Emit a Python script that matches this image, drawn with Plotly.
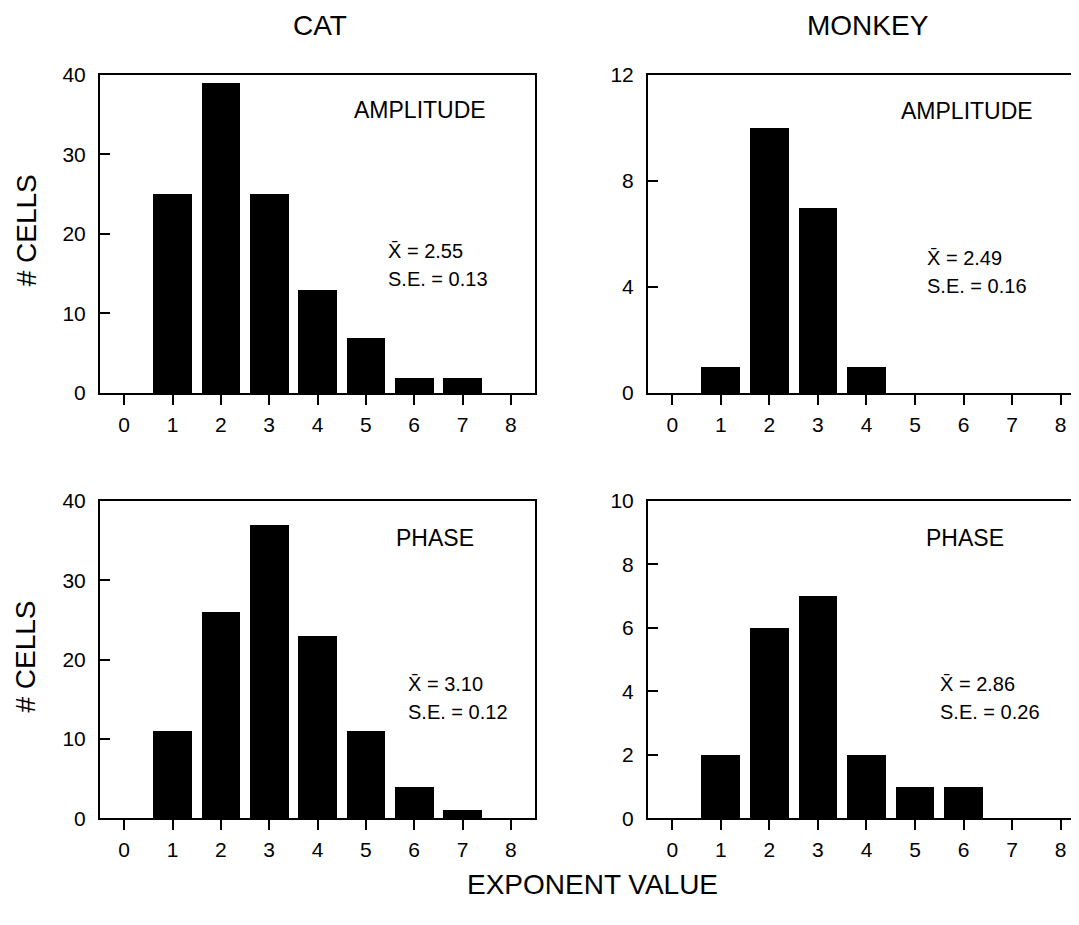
import plotly.graph_objects as go

# page body margin (8px); figure sized to fit the remaining window
OFF = 8
W, H = 1079 - OFF, 925 - OFF
# vertical calibration of the captured page (measured from earlier renders)
VS, VB = 0.9767, 10.5

# ---- data ----
exponent = [0, 1, 2, 3, 4, 5, 6, 7, 8]
cat_amplitude = [0, 25, 39, 25, 13, 7, 2, 2, 0]
monkey_amplitude = [0, 1, 10, 7, 1, 0, 0, 0, 0]
cat_phase = [0, 11, 26, 37, 23, 11, 4, 1, 0]
monkey_phase = [0, 2, 6, 7, 2, 1, 1, 0, 0]

column_titles = ["CAT", "MONKEY"]
panel_labels = ["AMPLITUDE", "AMPLITUDE", "PHASE", "PHASE"]
means = ["2.55", "2.49", "3.10", "2.86"]
ses = ["0.13", "0.16", "0.12", "0.26"]

FONT = "Liberation Sans, Arial, Helvetica, sans-serif"

def px(x):
    return (x - OFF) / W

def py(y):
    return 1 - ((y - VB) / VS - OFF) / H

fig = go.Figure()

panels = [
    (cat_amplitude, "x", "y"),
    (monkey_amplitude, "x2", "y2"),
    (cat_phase, "x3", "y3"),
    (monkey_phase, "x4", "y4"),
]
for vals, xa, ya in panels:
    fig.add_trace(go.Bar(x=exponent, y=vals, width=0.8, marker=dict(color="black", line=dict(width=0)),
                         xaxis=xa, yaxis=ya, showlegend=False))

xdom_left = [px(100), px(535)]
xdom_right = [px(648), 1.0]
ydom_top = [py(392), py(73)]
ydom_bot = [py(818), py(500)]

TICK = 21
LW = 2

def xaxis(dom, rng, anchor):
    return dict(domain=dom, range=rng, anchor=anchor, tickmode="array", tickvals=exponent,
                ticktext=[str(v) for v in exponent], ticks="outside", ticklen=10, tickwidth=LW,
                tickcolor="black", showline=True, linecolor="black", linewidth=LW, mirror=True,
                showgrid=False, zeroline=False, ticklabelstandoff=2,
                tickfont=dict(family=FONT, size=TICK, color="black"))

def yaxis(dom, rng, dtick, anchor, mirror):
    return dict(domain=dom, range=rng, anchor=anchor, dtick=dtick, tick0=0, ticks="inside", ticklen=10,
                tickwidth=LW, tickcolor="black", showline=True, linecolor="black", linewidth=LW,
                mirror=mirror, showgrid=False, zeroline=False, ticklabelstandoff=8,
                tickfont=dict(family=FONT, size=TICK, color="black"))

right_end = 8.377
fig.update_layout(
    width=W, height=H, margin=dict(l=0, r=0, t=0, b=0),
    paper_bgcolor="white", plot_bgcolor="white", bargap=0,
    xaxis=xaxis(xdom_left, [-0.5, 8.5], "y"),
    yaxis=yaxis(ydom_top, [0, 40], 10, "x", True),
    xaxis2=xaxis(xdom_right, [-0.5, right_end], "y2"),
    yaxis2=yaxis(ydom_top, [0, 12], 4, "x2", False),
    xaxis3=xaxis(xdom_left, [-0.5, 8.5], "y3"),
    yaxis3=yaxis(ydom_bot, [0, 40], 10, "x3", True),
    xaxis4=xaxis(xdom_right, [-0.5, right_end], "y4"),
    yaxis4=yaxis(ydom_bot, [0, 10], 2, "x4", False),
)

ann = []
def txt(x, y, s, size, xanchor="center", **kw):
    ann.append(dict(x=px(x), y=py(y), xref="paper", yref="paper", text=s, showarrow=False,
                    xanchor=xanchor, yanchor="middle", font=dict(family=FONT, size=size, color="black"), **kw))

TITLE = 28
txt(320, 24, column_titles[0], TITLE)
txt(868, 24, column_titles[1], TITLE)
txt(26, 229, "# CELLS", TITLE, textangle=-90)
txt(26, 656, "# CELLS", TITLE, textangle=-90)
txt(592, 884, "EXPONENT VALUE", TITLE)

label_pos = [(420, 108), (967, 109), (435, 537), (965, 537)]
for (x, y), s in zip(label_pos, panel_labels):
    txt(x, y, s, 23)

stat_pos = [(386, 250), (925, 257), (406, 684), (938, 684)]
for (x, y), m, s in zip(stat_pos, means, ses):
    txt(x, y, "X\u0304 = " + m, 20, xanchor="left")
    txt(x, y + 28, "S.E. = " + s, 20, xanchor="left")

fig.update_layout(annotations=ann)
fig.write_html("out.html")
